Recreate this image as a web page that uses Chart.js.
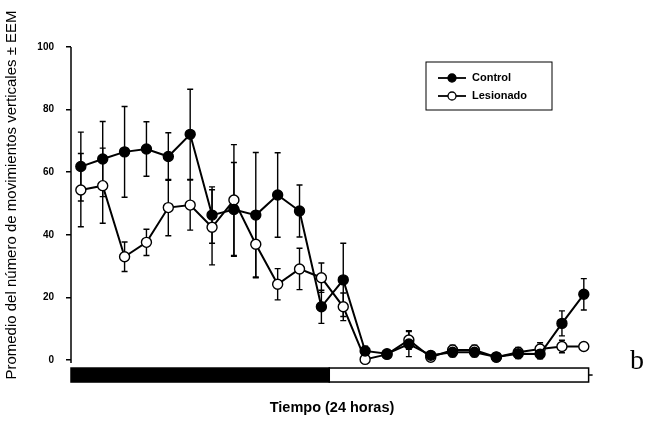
<!DOCTYPE html>
<html>
<head>
<meta charset="utf-8">
<script src="https://cdn.jsdelivr.net/npm/chart.js@4/dist/chart.umd.min.js"></script>
<style>
  html, body { margin: 0; padding: 0; background: #fff; }
  #wrap { width: 672px; height: 437px; }
</style>
</head>
<body>
<div id="wrap"><canvas id="movChart" width="672" height="437"></canvas></div>
<script>
// horas del registro (1 a 24)
const hours = [1, 2, 3, 4, 5, 6, 7, 8, 9, 10, 11, 12, 13, 14, 15, 16, 17, 18, 19, 20, 21, 22, 23, 24];

// promedio de movimientos verticales y su error estandar
const controlMean = [61.8, 64.2, 66.5, 67.4, 65.0, 72.1, 46.3, 48.1, 46.3, 52.7, 47.6, 17.0, 25.6, 2.9, 2.0, 5.1, 1.5, 2.5, 2.5, 1.0, 2.0, 1.9, 11.7, 21.0];
const controlErr = [11.0, 12.0, 14.5, 8.7, 7.6, 14.4, 9.0, 15.0, 20.0, 13.5, 8.3, 5.3, 11.7, 1.5, 1.0, 4.0, 1.0, 1.5, 1.5, 1.0, 1.5, 1.5, 4.0, 5.0];
const lesionMean = [54.3, 55.7, 33.0, 37.6, 48.7, 49.5, 42.4, 51.1, 37.0, 24.2, 29.1, 26.3, 17.0, 0.2, 1.8, 6.4, 0.9, 3.2, 3.2, 0.9, 2.5, 3.5, 4.3, 4.3];
const lesionErr = [11.7, 12.0, 4.7, 4.2, 9.0, 8.0, 12.0, 17.7, 10.5, 5.0, 6.6, 4.7, 4.4, 1.0, 1.0, 3.0, 1.0, 1.5, 1.5, 1.0, 1.5, 2.0, 2.0, 1.0];

const yTicks = [0, 20, 40, 60, 80, 100];

// fases del ciclo: oscuridad y luz (en horas)
const phaseStart = [0.55, 12.36];
const phaseEnd = [12.36, 24.22];
const phaseDark = [true, false];

const yTitle = 'Promedio del número de movimientos verticales ± EEM';
const xTitle = 'Tiempo (24 horas)';

const FONT = "'Liberation Sans', Arial, sans-serif";

const toPoints = (arr) => arr.map((v, i) => ({ x: hours[i], y: v }));

// barras de error verticales con tope
const errorBars = {
  id: 'errorBars',
  beforeDatasetsDraw(chart) {
    const ctx = chart.ctx;
    const ys = chart.scales.y;
    ctx.save();
    ctx.strokeStyle = '#000';
    ctx.lineWidth = 1.4;
    chart.data.datasets.forEach((ds, di) => {
      const meta = chart.getDatasetMeta(di);
      meta.data.forEach((pt, i) => {
        const m = ds.data[i].y, e = ds.errors[i];
        const top = ys.getPixelForValue(m + e);
        const bot = ys.getPixelForValue(Math.max(m - e, 0));
        ctx.beginPath();
        ctx.moveTo(pt.x, top); ctx.lineTo(pt.x, bot);
        ctx.moveTo(pt.x - 3, top); ctx.lineTo(pt.x + 3, top);
        ctx.moveTo(pt.x - 3, bot); ctx.lineTo(pt.x + 3, bot);
        ctx.stroke();
      });
    });
    ctx.restore();
  }
};

// eje vertical, barra de luz/oscuridad, titulo vertical, leyenda y letra del panel
const decorations = {
  id: 'decorations',
  afterDraw(chart) {
    const ctx = chart.ctx;
    const xs = chart.scales.x, ys = chart.scales.y;
    const area = chart.chartArea;
    ctx.save();

    // linea del eje y
    ctx.strokeStyle = '#000';
    ctx.lineWidth = 1.5;
    ctx.beginPath();
    ctx.moveTo(area.left, ys.getPixelForValue(100));
    ctx.lineTo(area.left, ys.getPixelForValue(0) + 3);
    ctx.stroke();

    // barra del ciclo
    const y0 = ys.getPixelForValue(0) + 8;
    const h = 14;
    phaseStart.forEach((s, i) => {
      const x1 = xs.getPixelForValue(s), x2 = xs.getPixelForValue(phaseEnd[i]);
      ctx.fillStyle = phaseDark[i] ? '#000' : '#fff';
      ctx.fillRect(x1, y0, x2 - x1, h);
      ctx.lineWidth = 1.5;
      ctx.strokeRect(x1, y0, x2 - x1, h);
    });
    const xe = xs.getPixelForValue(phaseEnd[phaseEnd.length - 1]);
    ctx.beginPath();
    ctx.moveTo(xe, y0 + h / 2); ctx.lineTo(xe + 4, y0 + h / 2);
    ctx.stroke();

    // titulo del eje y
    ctx.save();
    ctx.translate(12, 195);
    ctx.rotate(-Math.PI / 2);
    ctx.font = '15px ' + FONT;
    ctx.fillStyle = '#000';
    ctx.textAlign = 'center';
    ctx.textBaseline = 'middle';
    ctx.fillText(yTitle, 0, 0);
    ctx.restore();

    // leyenda
    const lx = 426, ly = 62, lw = 126, lh = 48;
    ctx.lineWidth = 1;
    ctx.strokeRect(lx, ly, lw, lh);
    ctx.font = 'bold 11px ' + FONT;
    ctx.textBaseline = 'middle';
    chart.data.datasets.forEach((ds, i) => {
      const yy = ly + 16 + i * 18;
      ctx.lineWidth = 1.8;
      ctx.beginPath();
      ctx.moveTo(lx + 12, yy); ctx.lineTo(lx + 40, yy);
      ctx.stroke();
      ctx.beginPath();
      ctx.arc(lx + 26, yy, 4, 0, Math.PI * 2);
      ctx.fillStyle = ds.pointBackgroundColor;
      ctx.fill();
      ctx.lineWidth = 1.3;
      ctx.stroke();
      ctx.fillStyle = '#000';
      ctx.fillText(ds.label, lx + 46, yy);
    });

    // letra del panel
    ctx.font = "28px 'Liberation Serif', 'Times New Roman', serif";
    ctx.textBaseline = 'alphabetic';
    ctx.fillText('b', 630, 369);
    ctx.restore();
  }
};

new Chart(document.getElementById('movChart'), {
  type: 'line',
  data: {
    datasets: [
      {
        label: 'Control',
        data: toPoints(controlMean),
        errors: controlErr,
        borderColor: '#000',
        borderWidth: 2,
        pointRadius: 5,
        pointBorderWidth: 1.4,
        pointBackgroundColor: '#000',
        pointBorderColor: '#000'
      },
      {
        label: 'Lesionado',
        data: toPoints(lesionMean),
        errors: lesionErr,
        borderColor: '#000',
        borderWidth: 2,
        pointRadius: 5,
        pointBorderWidth: 1.4,
        pointBackgroundColor: '#fff',
        pointBorderColor: '#000'
      }
    ]
  },
  options: {
    responsive: false,
    animation: false,
    layout: { padding: { top: 47, right: 79, left: 0, bottom: 0 } },
    plugins: {
      legend: { display: false },
      tooltip: { enabled: false }
    },
    scales: {
      x: {
        type: 'linear',
        min: 0.55,
        max: 24.42,
        grid: { display: false },
        border: { display: false },
        ticks: { display: false },
        title: {
          display: true,
          text: xTitle,
          color: '#000',
          font: { family: FONT, size: 14.5, weight: 'bold' },
          padding: { top: 20, bottom: 20 }
        },
        afterFit: (s) => { s.height = 53.5; }
      },
      y: {
        min: -7.5,
        max: 100,
        afterBuildTicks: (s) => { s.ticks = yTicks.map(v => ({ value: v })); },
        grid: {
          drawOnChartArea: false,
          drawTicks: true,
          tickLength: 5,
          color: '#000',
          lineWidth: 1.5
        },
        border: { display: false },
        ticks: {
          color: '#000',
          padding: 12,
          font: { family: FONT, size: 10, weight: 'bold' }
        },
        afterFit: (s) => { s.width = 71; }
      }
    }
  },
  plugins: [errorBars, decorations]
});
</script>
</body>
</html>
